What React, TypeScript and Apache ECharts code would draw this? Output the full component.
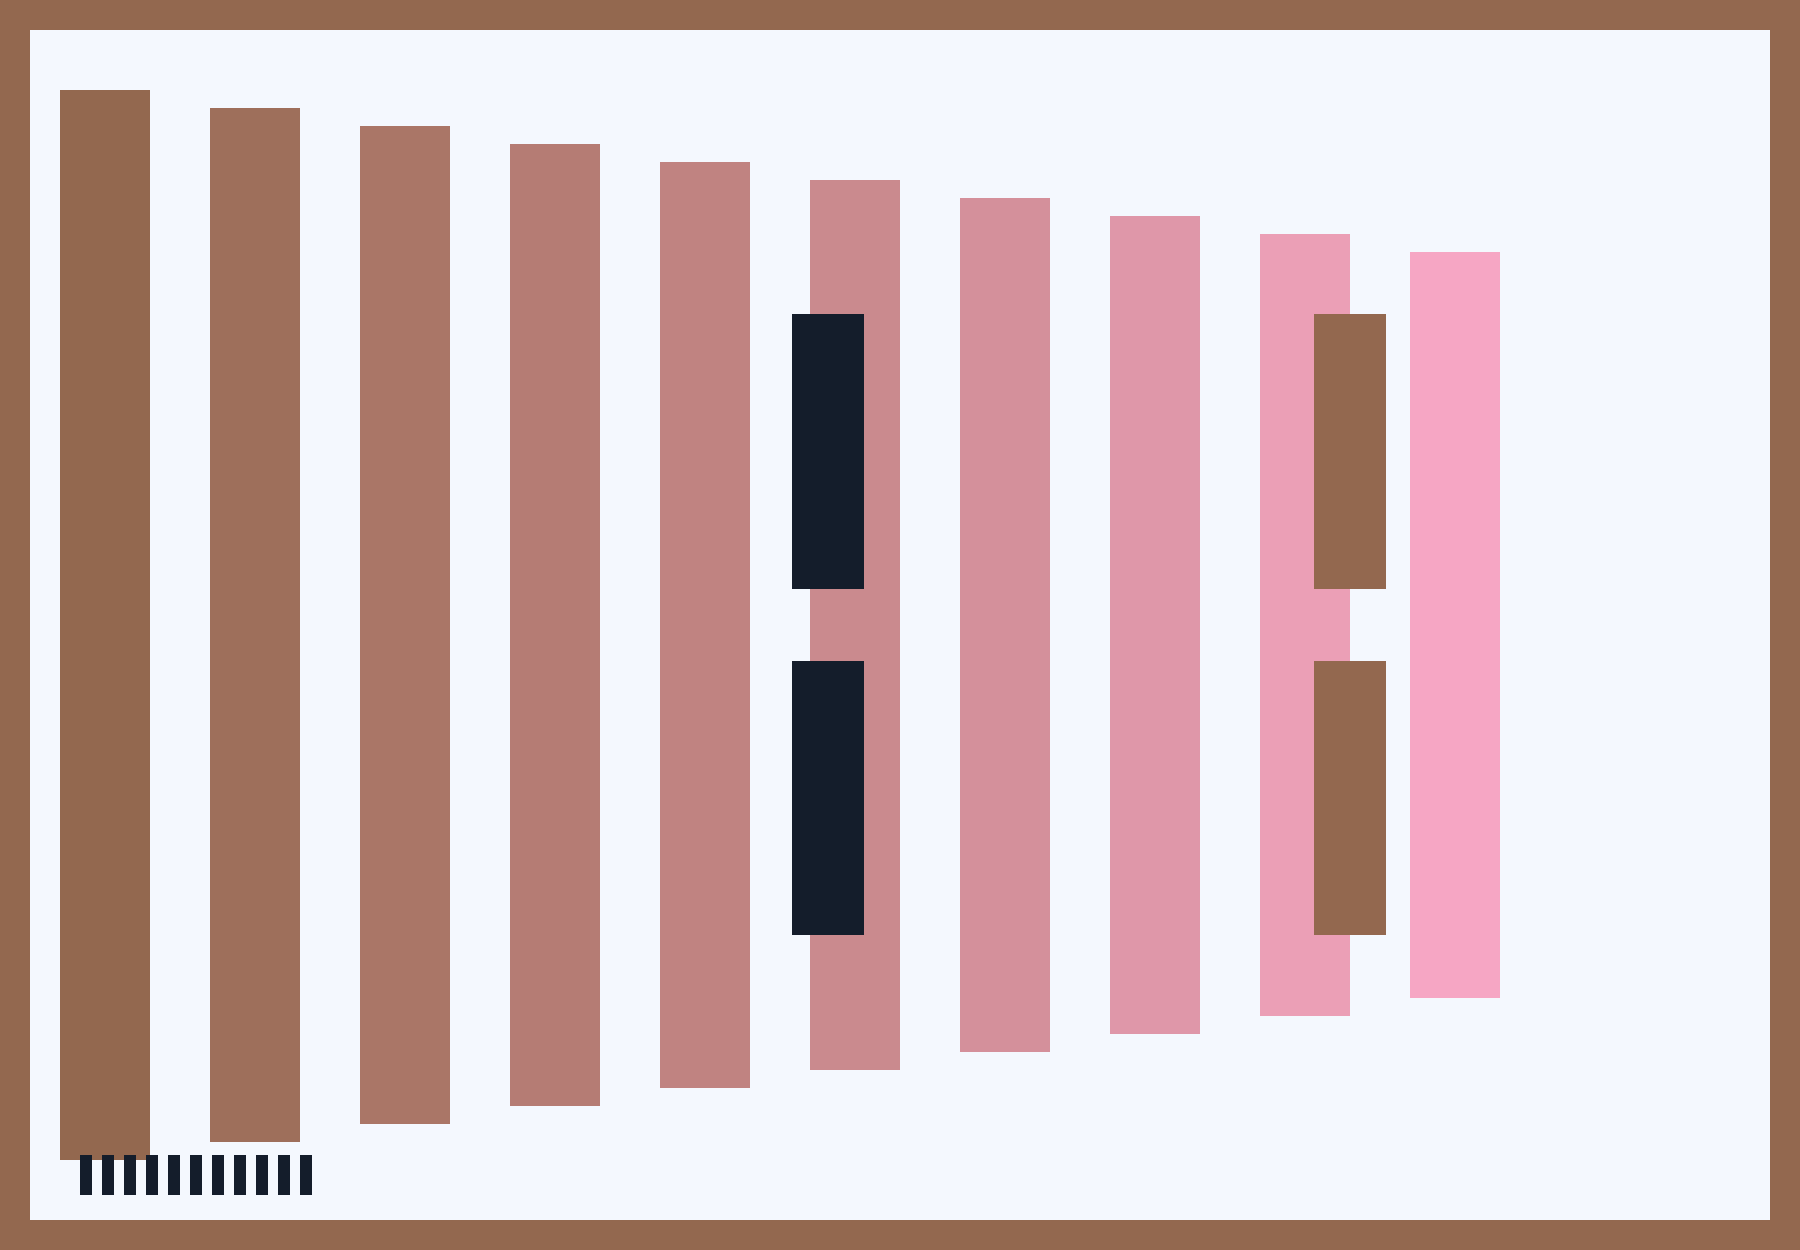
import { useEffect, useRef } from 'react';
import * as echarts from 'echarts';

// categories (hidden axis)
const categories = ['1', '2', '3', '4', '5', '6', '7', '8', '9', '10'];
// each bar spans from low to high
const barHigh = [535, 517, 499, 481, 463, 445, 427, 409, 391, 373];
const barLow = [-535, -517, -499, -481, -463, -445, -427, -409, -391, -373];
const barColors = [
  '#93684f', '#9e6f5b', '#aa7667', '#b57c74', '#c08381',
  '#ca8a8e', '#d4909b', '#df97a9', '#eb9fb6', '#f6a6c4',
];

// overlay blocks: category index, low, high
const blockCats = [5, 5, 8, 8];
const blockLow = [36, -310, 36, -310];
const blockHigh = [311, -36, 311, -36];
const blockColors = ['#141d2b', '#141d2b', '#93684f', '#93684f'];
const blockOffset = [-0.18, -0.18, 0.3, 0.3];

const TICKS = 11;

export default function App() {
  const ref = useRef<HTMLDivElement>(null);

  useEffect(() => {
    if (!ref.current) return;
    const chart = echarts.init(ref.current, undefined, { renderer: 'svg' });

    const ticks = Array.from({ length: TICKS }, (_, i) => ({
      type: 'rect',
      z: 10,
      shape: { x: 80 + i * 22, y: 1155, width: 12, height: 40 },
      style: { fill: '#141d2b' },
    }));

    chart.setOption({
      animation: false,
      backgroundColor: '#f4f8fe',
      grid: { left: 30, top: 30, width: 1500, height: 1190 },
      xAxis: { type: 'category', data: categories, show: false },
      yAxis: { type: 'value', min: -595, max: 595, show: false },
      graphic: [
        {
          type: 'rect',
          z: 10,
          shape: { x: 15, y: 15, width: 1770, height: 1220 },
          style: { fill: 'none', stroke: '#93684f', lineWidth: 30 },
        },
        ...ticks,
      ],
      series: [
        {
          type: 'custom',
          z: 2,
          data: categories.map((_, i) => [i, barLow[i], barHigh[i]]),
          encode: { x: 0, y: [1, 2] },
          renderItem: (params: any, api: any) => {
            const i = api.value(0);
            const top = api.coord([i, api.value(2)]);
            const bottom = api.coord([i, api.value(1)]);
            const w = api.size([1, 0])[0] * 0.6;
            return {
              type: 'rect',
              shape: { x: top[0] - w / 2, y: top[1], width: w, height: bottom[1] - top[1] },
              style: { fill: barColors[params.dataIndex] },
            };
          },
        },
        {
          type: 'custom',
          z: 3,
          data: blockCats.map((c, i) => [c, blockLow[i], blockHigh[i]]),
          encode: { x: 0, y: [1, 2] },
          renderItem: (params: any, api: any) => {
            const i = api.value(0);
            const band = api.size([1, 0])[0];
            const top = api.coord([i, api.value(2)]);
            const bottom = api.coord([i, api.value(1)]);
            const w = band * 0.48;
            const cx = top[0] + band * blockOffset[params.dataIndex];
            return {
              type: 'rect',
              shape: { x: cx - w / 2, y: top[1], width: w, height: bottom[1] - top[1] },
              style: { fill: blockColors[params.dataIndex] },
            };
          },
        },
      ],
    });

    return () => chart.dispose();
  }, []);

  return (
    <div
      ref={ref}
      style={{ position: 'fixed', left: 0, top: 0, width: 1800, height: 1250 }}
    />
  );
}
